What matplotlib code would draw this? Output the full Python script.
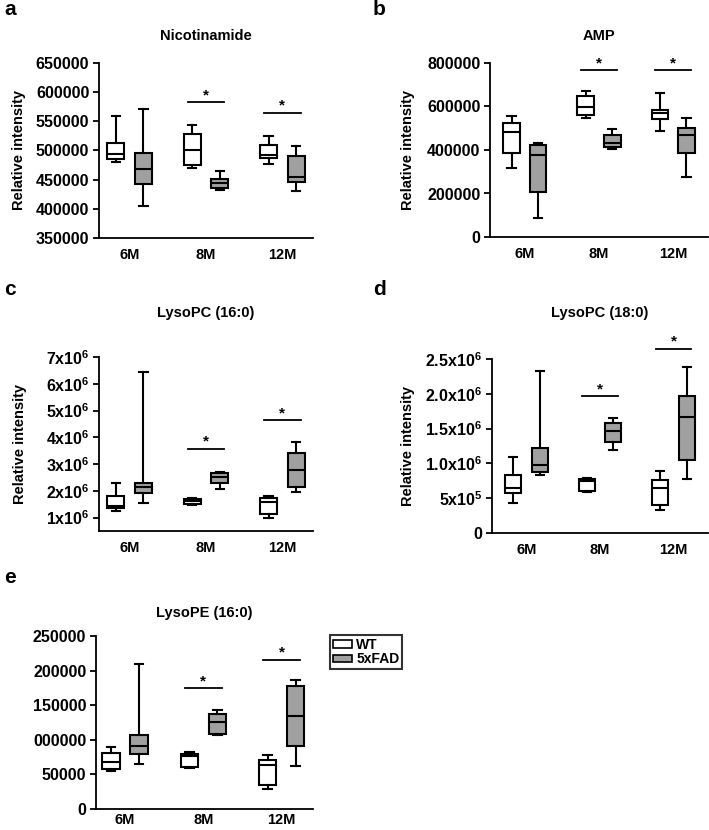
import matplotlib
matplotlib.use("Agg")
import matplotlib.pyplot as plt
from matplotlib.patches import Patch

plt.rcParams['font.family'] = ['Liberation Sans', 'DejaVu Sans']
plt.rcParams['font.weight'] = 'bold'
plt.rcParams['mathtext.fontset'] = 'custom'
plt.rcParams['mathtext.rm'] = 'Liberation Sans:bold'
plt.rcParams['mathtext.bf'] = 'Liberation Sans:bold'
plt.rcParams['mathtext.default'] = 'rm'

categories = ['6M', '8M', '12M']
groups = ['WT', '5xFAD']
group_colors = ['white', '#a0a0a0']

# five-number summaries per category: (min, q1, median, q3, max)
nic_wt = [(481000, 485600, 493700, 513000, 559000),
          (470000, 475300, 501700, 528000, 544000),
          (476400, 487400, 492500, 509800, 525300)]
nic_fad = [(404000, 442500, 467800, 495400, 571800),
           (432800, 436200, 444800, 450600, 464900),
           (431000, 445400, 454000, 491400, 508000)]
nic_sig = [None, 582800, 565000]
nic_yticks = [350000, 400000, 450000, 500000, 550000, 600000, 650000]
nic_yticklabels = ['350000', '400000', '450000', '500000', '550000', '600000', '650000']

amp_wt = [(318800, 386200, 481200, 524100, 557800),
          (545600, 562400, 597700, 646700, 669700),
          (487300, 542500, 568600, 585400, 662000)]
amp_fad = [(88900, 205400, 377000, 423000, 432200),
           (404600, 415300, 433700, 467400, 495000),
           (274300, 384700, 470500, 501200, 547100)]
amp_sig = [None, 766000, 766000]
amp_yticks = [0, 200000, 400000, 600000, 800000]
amp_yticklabels = ['0', '200000', '400000', '600000', '800000']

pc16_wt = [(1.26e6, 1.37e6, 1.45e6, 1.81e6, 2.30e6),
           (1.46e6, 1.51e6, 1.62e6, 1.70e6, 1.72e6),
           (1.00e6, 1.12e6, 1.60e6, 1.74e6, 1.80e6)]
pc16_fad = [(1.56e6, 1.91e6, 2.14e6, 2.31e6, 6.43e6),
            (2.07e6, 2.30e6, 2.53e6, 2.67e6, 2.71e6),
            (1.95e6, 2.16e6, 2.78e6, 3.43e6, 3.83e6)]
pc16_sig = [None, 3.57e6, 4.63e6]
pc16_yticks = [1e6, 2e6, 3e6, 4e6, 5e6, 6e6, 7e6]
pc16_yticklabels = ['1x10$^{6}$', '2x10$^{6}$', '3x10$^{6}$', '4x10$^{6}$',
                    '5x10$^{6}$', '6x10$^{6}$', '7x10$^{6}$']

pc18_wt = [(0.43e6, 0.574e6, 0.645e6, 0.837e6, 1.085e6),
           (0.59e6, 0.61e6, 0.75e6, 0.78e6, 0.79e6),
           (0.335e6, 0.40e6, 0.65e6, 0.755e6, 0.885e6)]
pc18_fad = [(0.84e6, 0.87e6, 0.98e6, 1.22e6, 2.33e6),
            (1.19e6, 1.31e6, 1.46e6, 1.58e6, 1.65e6),
            (0.78e6, 1.05e6, 1.67e6, 1.965e6, 2.38e6)]
pc18_sig = [None, 1.965e6, 2.65e6]
pc18_yticks = [0, 0.5e6, 1.0e6, 1.5e6, 2.0e6, 2.5e6]
pc18_yticklabels = ['0', '5x10$^{5}$', '1.0x10$^{6}$', '1.5x10$^{6}$',
                    '2.0x10$^{6}$', '2.5x10$^{6}$']

pe16_wt = [(54200, 58100, 67700, 81600, 90200),
           (59000, 60500, 77300, 80100, 82500),
           (29300, 34100, 63800, 71500, 78700)]
pe16_fad = [(65300, 79700, 91600, 107000, 209700),
            (106500, 108400, 125700, 137700, 143000),
            (62400, 90700, 134400, 178000, 186200)]
pe16_sig = [None, 174700, 216000]
pe16_yticks = [0, 50000, 100000, 150000, 200000, 250000]
pe16_yticklabels = ['0', '50000', '000000', '150000', '200000', '250000']

W, H = 709, 830
fig = plt.figure(figsize=(W / 100, H / 100), dpi=100)


def px_axes(left, right, top, bottom):
    return fig.add_axes([left / W, 1 - bottom / H, (right - left) / W, (bottom - top) / H])


def panel(ax, title, wt, fad, sig, yticks, yticklabels, ylim, xlim,
          title_y, ylabel_x=None, xpad=7):
    for gi, (data, col) in enumerate(zip([wt, fad], group_colors)):
        stats = []
        for s in data:
            stats.append(dict(whislo=s[0], q1=s[1], med=s[2], q3=s[3], whishi=s[4], fliers=[]))
        offs = -0.18 if gi == 0 else 0.18
        pos = [i + 1 + offs for i in range(len(categories))]
        ax.bxp(stats, positions=pos, widths=0.22, patch_artist=True, showfliers=False,
               boxprops=dict(facecolor=col, edgecolor='black', linewidth=1.5),
               medianprops=dict(color='black', linewidth=1.5),
               whiskerprops=dict(color='black', linewidth=1.5),
               capprops=dict(color='black', linewidth=1.5),
               capwidths=0.11, manage_ticks=False)
    for i, y in enumerate(sig):
        if y is None:
            continue
        x0, x1 = i + 1 - 0.24, i + 1 + 0.24
        ax.plot([x0, x1], [y, y], color='black', lw=1.3, clip_on=False)
        ax.text(i + 1, y, '*', ha='center', va='bottom', fontsize=11, fontweight='bold')
    ax.set_xlim(*xlim)
    ax.set_ylim(*ylim)
    ax.set_xticks([1, 2, 3])
    ax.set_xticklabels(categories)
    ax.set_yticks(yticks)
    ax.set_yticklabels(yticklabels)
    ax.tick_params(axis='x', length=0, pad=xpad, labelsize=10.5)
    ax.tick_params(axis='y', length=4, width=1.3, pad=3, labelsize=11.5)
    for t in ax.get_xticklabels() + ax.get_yticklabels():
        t.set_fontweight('bold')
    for sp in ['top', 'right']:
        ax.spines[sp].set_visible(False)
    for sp in ['left', 'bottom']:
        ax.spines[sp].set_linewidth(1.3)
    if ylabel_x is not None:
        ax.set_ylabel('Relative intensity', fontsize=10.5, fontweight='bold')
        ax.yaxis.set_label_coords(ylabel_x, 0.5)
    ax.text(0.5, title_y, title, transform=ax.transAxes, ha='center', va='center',
            fontsize=10.5, fontweight='bold')


axa = px_axes(99, 313, 63, 238)
panel(axa, 'Nicotinamide', nic_wt, nic_fad, nic_sig, nic_yticks, nic_yticklabels,
      (350000, 650000), (0.6, 3.4), title_y=1.154, ylabel_x=-0.341)

axb = px_axes(490, 708, 63, 237)
panel(axb, 'AMP', amp_wt, amp_fad, amp_sig, amp_yticks, amp_yticklabels,
      (0, 800000), (0.53, 3.47), title_y=1.155, ylabel_x=-0.344)

axc = px_axes(99, 313, 357, 531)
panel(axc, 'LysoPC (16:0)', pc16_wt, pc16_fad, pc16_sig, pc16_yticks, pc16_yticklabels,
      (0.5e6, 7e6), (0.6, 3.4), title_y=1.253, ylabel_x=-0.336)

axd = px_axes(492, 708, 359, 533)
panel(axd, 'LysoPC (18:0)', pc18_wt, pc18_fad, pc18_sig, pc18_yticks, pc18_yticklabels,
      (0, 2.5e6), (0.53, 3.47), title_y=1.264, ylabel_x=-0.356)

axe = px_axes(96, 313, 636, 809)
panel(axe, 'LysoPE (16:0)', pe16_wt, pe16_fad, pe16_sig, pe16_yticks, pe16_yticklabels,
      (0, 250000), (0.63, 3.4), title_y=1.133, ylabel_x=None, xpad=3)

for lab, x, y in [('a', 4, 0), ('b', 373, 0), ('c', 4, 280), ('d', 373, 280), ('e', 4, 568)]:
    fig.text(x / W, 1 - y / H, lab, fontsize=15, fontweight='bold', ha='left', va='top')

handles = [Patch(facecolor=c, edgecolor='black', linewidth=1.2) for c in group_colors]
leg = fig.legend(handles, groups, loc='upper left',
                 bbox_to_anchor=(330 / W, 1 - 635 / H), frameon=True, fancybox=False,
                 edgecolor='black', fontsize=10, handlelength=1.4, handleheight=0.45,
                 handletextpad=0.3, borderpad=0.2, labelspacing=0.05, borderaxespad=0)
leg.get_frame().set_linewidth(1.5)
for t in leg.get_texts():
    t.set_fontweight('bold')

fig.savefig('out.png', dpi=100)
